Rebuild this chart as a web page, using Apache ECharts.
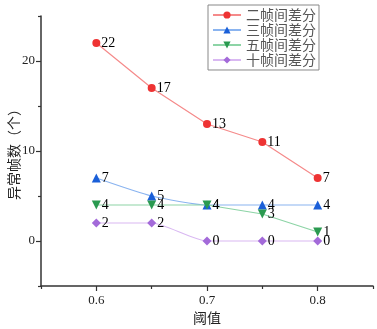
<!DOCTYPE html>
<html>
<head>
<meta charset="utf-8">
<script src="https://cdn.jsdelivr.net/npm/echarts@6/dist/echarts.min.js"></script>
<style>
html,body{margin:0;padding:0;background:#fff;}
#chart{width:377px;height:329px;}
</style>
</head>
<body>
<div id="chart"></div>
<script>
// 阈值
var thresholds = [0.6, 0.65, 0.7, 0.75, 0.8];
// 各方法异常帧数
var diff2 = [22, 17, 13, 11, 7];
var diff3 = [7, 5, 4, 4, 4];
var diff5 = [4, 4, 4, 3, 1];
var diff10 = [2, 2, 0, 0, 0];
var seriesNames = ["二帧间差分", "三帧间差分", "五帧间差分", "十帧间差分"];
var xLabels = [0.6, 0.7, 0.8];
var xMinor = [0.55, 0.65, 0.75, 0.85];
var yLabels = [0, 10, 20];
var yMinor = [-5, 5, 15, 25];

var serif = "Liberation Serif";
var cjk = "Noto Sans CJK SC";

function pairs(vals) {
	var out = [];
	for (var i = 0; i < thresholds.length; i++) {
		out.push([thresholds[i], vals[i]]);
	}
	return out;
}

function makeSeries(name, vals, symbol, rotate, markColor, lineColor, smooth) {
	return {
		name : name,
		type : "line",
		data : pairs(vals),
		symbol : symbol,
		symbolRotate : rotate,
		symbolSize : symbol == "circle" ? 8 : 9,
		smooth : smooth,
		itemStyle : { color : markColor },
		lineStyle : { color : lineColor, width : 1.2 },
		label : {
			show : true,
			position : "right",
			distance : 1,
			color : "#000",
			fontFamily : serif,
			fontSize : 14
		},
		emphasis : { disabled : true }
	};
}

var axisLine = { show : true, onZero : false, lineStyle : { color : "#333", width : 1.5 } };

var myChart = echarts.init(document.getElementById("chart"));
var option = {
	animation : false,
	grid : { left : 41, right : 4, top : 16, bottom : 43, outerBoundsMode : "none", containLabel : false },
	legend : {
		orient : "vertical",
		left : 208,
		top : 5,
		itemWidth : 28,
		itemHeight : 9,
		itemGap : 1,
		padding : [3, 3, 3, 4],
		borderColor : "#888",
		borderWidth : 1,
		textStyle : { fontFamily : cjk, fontSize : 14, color : "#555" },
		data : seriesNames
	},
	xAxis : [{
		type : "value",
		min : 0.55,
		max : 0.85,
		name : "阈值",
		nameLocation : "middle",
		nameGap : 25,
		nameMoveOverlap : false,
		nameTextStyle : { fontFamily : cjk, fontSize : 14, color : "#222" },
		axisLine : axisLine,
		axisTick : { show : true, customValues : xLabels, length : 5, lineStyle : { color : "#333", width : 1.2 } },
		axisLabel : {
			customValues : xLabels,
			margin : 8,
			fontFamily : serif,
			fontSize : 13,
			color : "#222",
			formatter : function (v) { return v.toFixed(1); }
		},
		splitLine : { show : false }
	}, {
		type : "value",
		position : "bottom",
		min : 0.55,
		max : 0.85,
		axisLine : { show : false, onZero : false },
		axisTick : { show : true, customValues : xMinor, length : 3, lineStyle : { color : "#333", width : 1.2 } },
		axisLabel : { show : false },
		splitLine : { show : false }
	}],
	yAxis : [{
		type : "value",
		min : -5,
		max : 25,
		name : "异常帧数（个）",
		nameLocation : "middle",
		nameGap : 20,
		nameRotate : 90,
		nameMoveOverlap : false,
		nameTextStyle : { fontFamily : cjk, fontSize : 14, color : "#222" },
		axisLine : axisLine,
		axisTick : { show : true, customValues : yLabels, length : 5, lineStyle : { color : "#333", width : 1.2 } },
		axisLabel : { customValues : yLabels, margin : 6, fontFamily : serif, fontSize : 13, color : "#222" },
		splitLine : { show : false }
	}, {
		type : "value",
		position : "left",
		min : -5,
		max : 25,
		axisLine : { show : false, onZero : false },
		axisTick : { show : true, customValues : yMinor, length : 3, lineStyle : { color : "#333", width : 1.2 } },
		axisLabel : { show : false },
		splitLine : { show : false }
	}],
	series : [
		makeSeries(seriesNames[0], diff2, "circle", 0, "#ee3333", "#f58a8a", false),
		makeSeries(seriesNames[1], diff3, "triangle", 0, "#1a5fd8", "#8ab4f0", 0.2),
		makeSeries(seriesNames[2], diff5, "triangle", 180, "#2a9a50", "#8dd4a6", false),
		makeSeries(seriesNames[3], diff10, "diamond", 0, "#a36ad9", "#d9b8f2", 0.2)
	]
};
myChart.setOption(option);
</script>
</body>
</html>
